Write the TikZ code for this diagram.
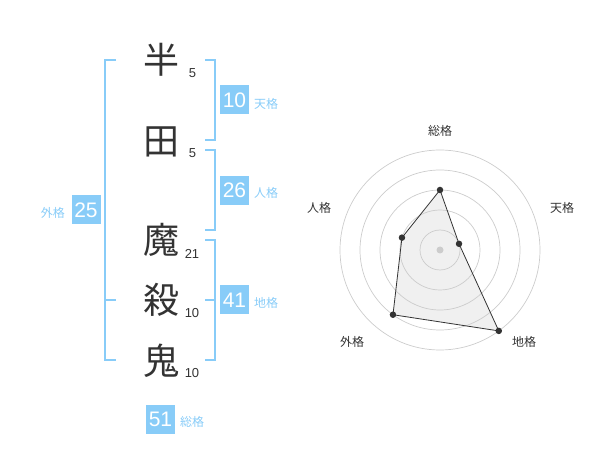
\documentclass[tikz,border=0pt]{standalone}
\usepackage{fontspec}
\setmainfont{Liberation Sans}
\newfontfamily\jp{Noto Sans CJK JP}
\definecolor{kblue}{HTML}{88CCF8}
\definecolor{ink}{HTML}{333333}
\begin{document}
\begin{tikzpicture}[x=1pt,y=-1pt,
 kanji/.style={font=\jp\fontsize{36}{36}\selectfont, text=ink, inner sep=0},
 strokes/.style={font=\fontsize{13}{13}\selectfont, text=ink, inner sep=0},
 valbox/.style={fill=kblue, text=white, minimum width=29pt, minimum height=29pt, inner sep=0, font=\fontsize{21}{21}\selectfont},
 kaku/.style={font=\jp\fontsize{12}{12}\selectfont, text=kblue, inner sep=0},
 brk/.style={draw=kblue, line width=2pt},
 ring/.style={draw=black!20, line width=0.7pt},
 rlabel/.style={font=\jp\fontsize{12}{12}\selectfont, text=ink, inner sep=0},
 rdot/.style={circle, fill=ink, inner sep=0, minimum size=6.5pt}
]
\useasboundingbox (0,0) rectangle (600,470);
% name characters
\node[kanji] (k1) at (161,60) {半};
\node[kanji] (k2) at (161,142) {田};
\node[kanji] (k3) at (161,240) {魔};
\node[kanji] (k4) at (161,300) {殺};
\node[kanji] (k5) at (161,361) {鬼};
\node[strokes] (s1) at (192.5,73) {5};
\node[strokes] (s2) at (192.5,153) {5};
\node[strokes] (s3) at (192,253.5) {21};
\node[strokes] (s4) at (192,313) {10};
\node[strokes] (s5) at (192,373) {10};
% brackets
\draw[brk] (116,60) -- (105,60) -- (105,360) -- (116,360);
\draw[brk] (105,300) -- (116,300);
\draw[brk] (205,60) -- (215,60) -- (215,140) -- (205,140);
\draw[brk] (205,150) -- (215,150) -- (215,230) -- (205,230);
\draw[brk] (205,240) -- (215,240) -- (215,360) -- (205,360);
\draw[brk] (205,300) -- (215,300);
% values
\node[valbox] (v10) at (234.5,100) {10};
\node[kaku, anchor=west] (l10) at (254,104) {天格};
\node[valbox] (v26) at (234.5,190.5) {26};
\node[kaku, anchor=west] (l26) at (254,193) {人格};
\node[valbox] (v41) at (234.5,300) {41};
\node[kaku, anchor=west] (l41) at (254,303) {地格};
\node[valbox] (v25) at (86,210) {25};
\node[kaku, anchor=east] (l25) at (65,213) {外格};
\node[valbox] (v51) at (160.5,419) {51};
\node[kaku, anchor=west] (l51) at (180,422) {総格};
% radar
\coordinate (C) at (440,250);
\coordinate (pA) at ({440+60*cos(90)},{250-60*sin(90)});
\coordinate (pB) at ({440+20*cos(18)},{250-20*sin(18)});
\coordinate (pC) at ({440+100*cos(-54)},{250-100*sin(-54)});
\coordinate (pD) at ({440+80*cos(-126)},{250-80*sin(-126)});
\coordinate (pE) at ({440+40*cos(162)},{250-40*sin(162)});
\fill[black!6] (pA) -- (pB) -- (pC) -- (pD) -- (pE) -- cycle;
\foreach \r in {20,40,60,80,100} \draw[ring] (C) circle[radius=\r];
\draw[ink, line width=0.8pt] (pA) -- (pB) -- (pC) -- (pD) -- (pE) -- cycle;
\node[circle, fill=black!20, inner sep=0, minimum size=7pt] (c0) at (C) {};
\foreach \p in {pA,pB,pC,pD,pE} \node[rdot] at (\p) {};
\node[rlabel] (ra) at (440,131) {総格};
\node[rlabel] (rb) at (562,208) {天格};
\node[rlabel] (rc) at (524,342) {地格};
\node[rlabel] (rd) at (352,342) {外格};
\node[rlabel] (re) at (319,208) {人格};
\end{tikzpicture}
\end{document}
